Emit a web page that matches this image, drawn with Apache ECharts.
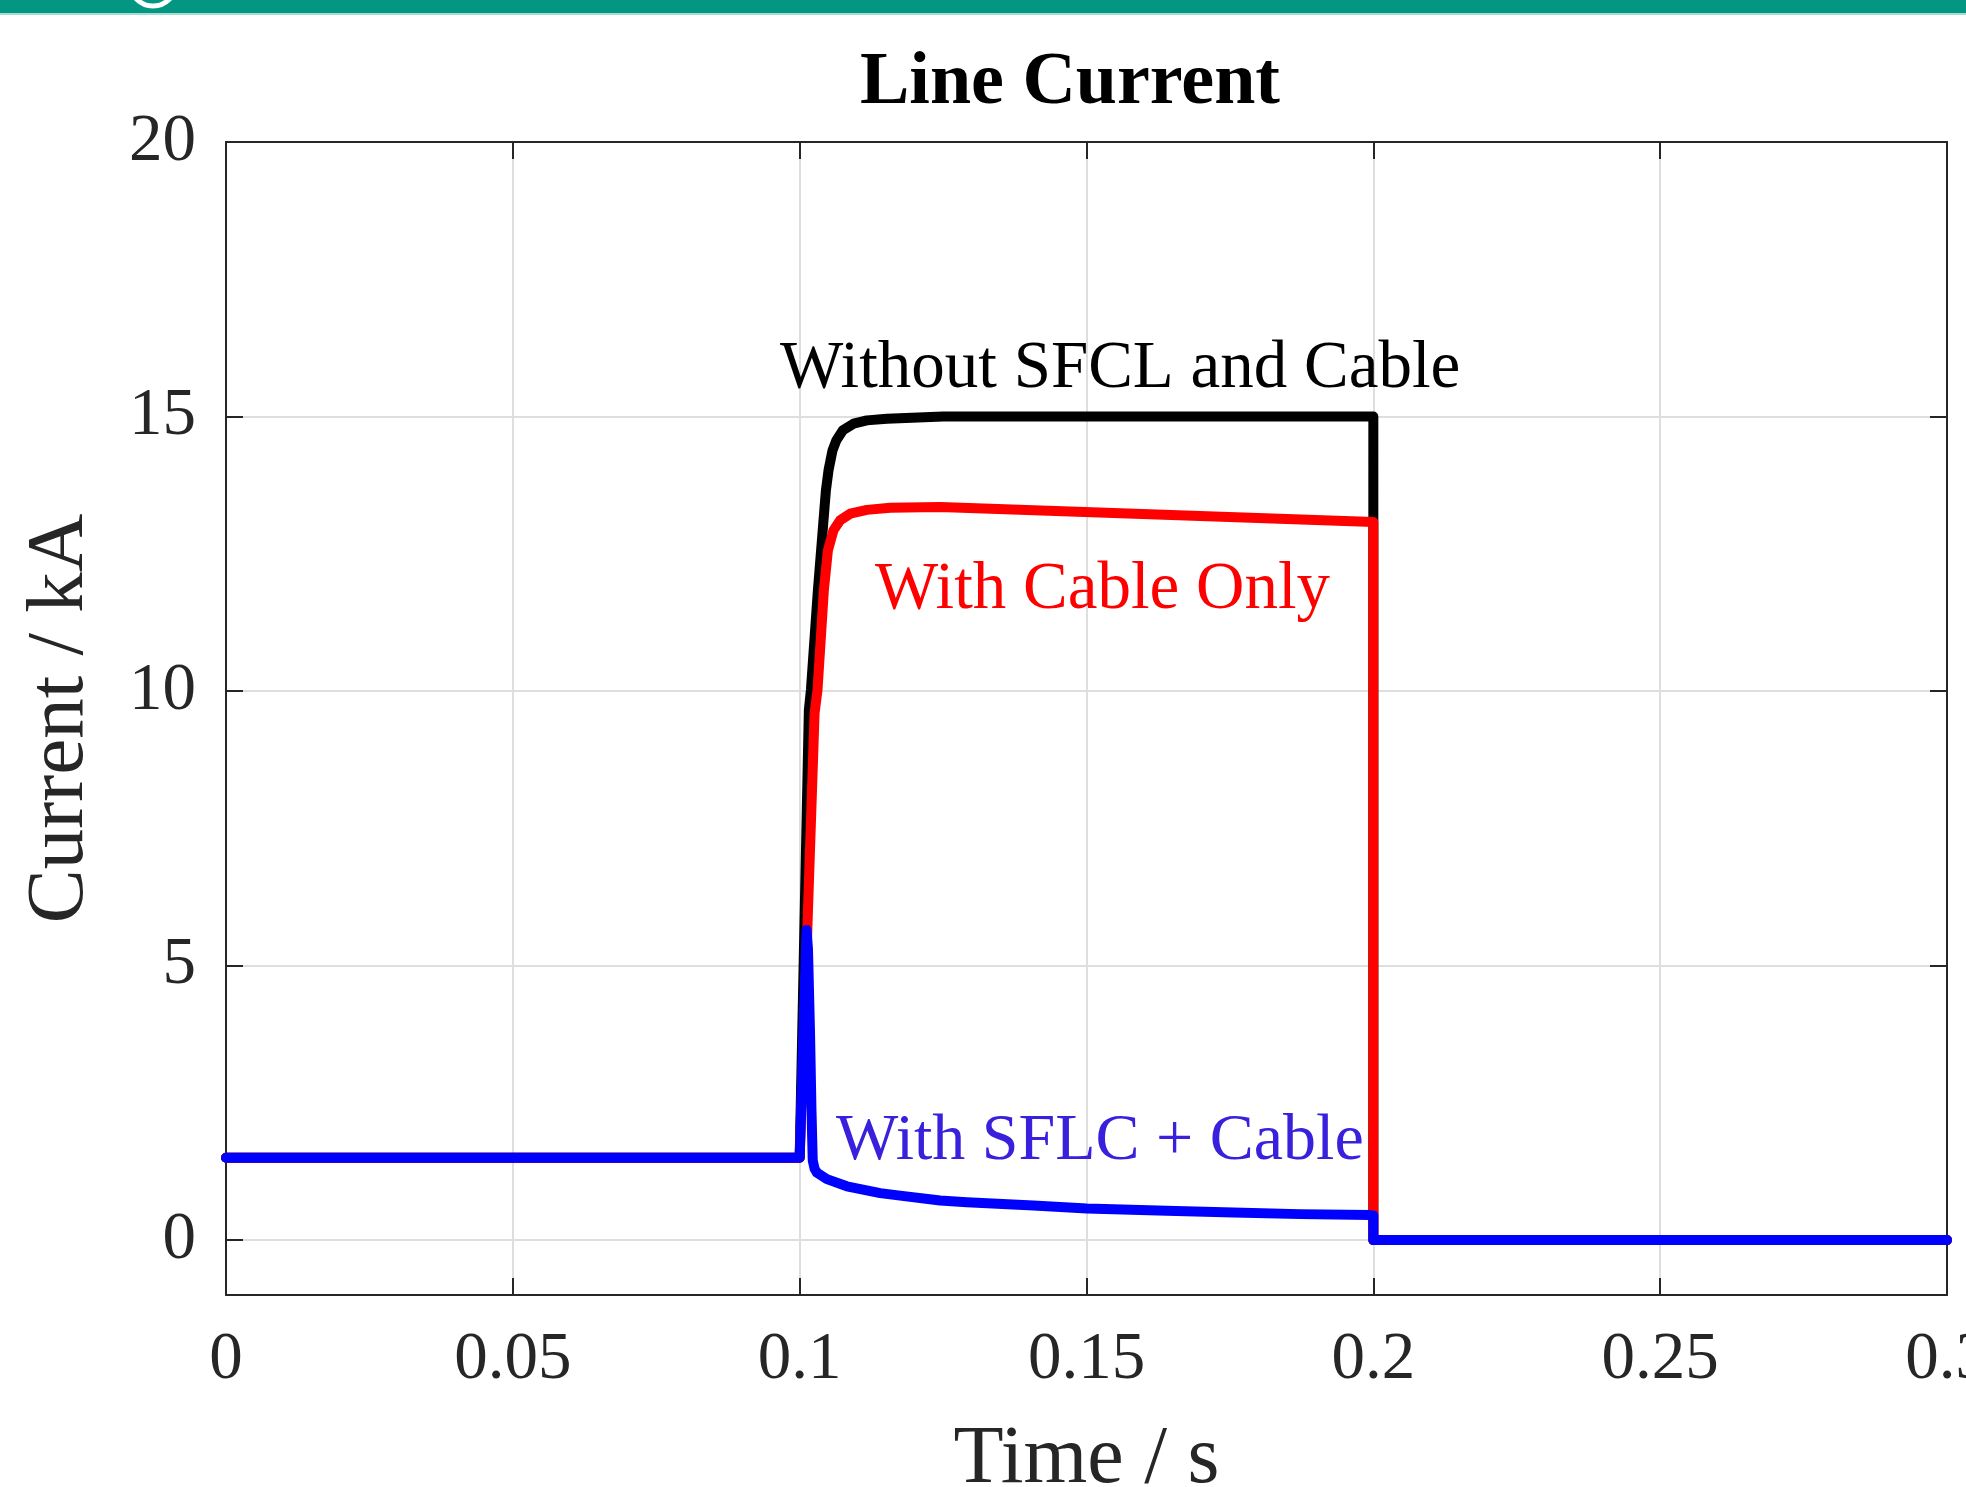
<!DOCTYPE html>
<html>
<head>
<meta charset="utf-8">
<script src="https://cdn.jsdelivr.net/npm/echarts@6/dist/echarts.min.js"></script>
<style>html,body{margin:0;padding:0;background:#fff;}#c{width:1966px;height:1487px;}</style>
</head>
<body>
<div id="c"></div>
<script>
// ---- data ----
const xTicks = [0, 0.05, 0.1, 0.15, 0.2, 0.25, 0.3];
const yTicks = [0, 5, 10, 15, 20];

const blackTime = [0, 0.1, 0.1016, 0.10196, 0.10318, 0.10457, 0.10503, 0.10572, 0.10637, 0.10753, 0.10938, 0.11172, 0.1152, 0.125, 0.2, 0.2, 0.3];
const blackCurrent = [1.5, 1.5, 9.65, 10.02, 11.84, 13.65, 14.02, 14.38, 14.56, 14.75, 14.87, 14.93, 14.96, 15.0, 15.0, 0, 0];

const redTime = [0, 0.1, 0.1026, 0.10311, 0.10422, 0.10492, 0.1059, 0.10706, 0.10881, 0.11172, 0.11578, 0.12449, 0.2, 0.2, 0.3];
const redCurrent = [1.5, 1.5, 9.6, 10.02, 11.84, 12.56, 12.93, 13.11, 13.23, 13.3, 13.34, 13.35, 13.08, 0, 0];

const blueTime = [0, 0.1, 0.1012, 0.10145, 0.1018, 0.10205, 0.10228, 0.1026, 0.103, 0.10475, 0.10823, 0.11404, 0.1175, 0.12449, 0.12914, 0.14076, 0.15006, 0.164, 0.1756, 0.1872, 0.1995, 0.2, 0.2, 0.3];
const blueCurrent = [1.5, 1.5, 5.65, 5.3, 3.8, 2.4, 1.45, 1.3, 1.23, 1.11, 0.98, 0.855, 0.81, 0.72, 0.69, 0.63, 0.575, 0.533, 0.503, 0.473, 0.455, 0.45, 0, 0];

const seriesNames = ['Without SFCL and Cable', 'With Cable Only', 'With SFLC + Cable'];
const titleText = 'Line Current';
const xName = 'Time / s';
const yName = 'Current / kA';

// ---- chart ----
const FONT = "'Liberation Serif', 'Times New Roman', serif";
const pair = (t, v) => t.map((x, i) => [x, v[i]]);
const AX = '#262626';

const chart = echarts.init(document.getElementById('c'), null, {renderer: 'canvas'});

const lineSeries = (name, data, color) => ({
  name, type: 'line', data, showSymbol: false, symbol: 'none', smooth: false,
  xAxisIndex: 0, yAxisIndex: 0, animation: false,
  lineStyle: {color, width: 10, join: 'round', cap: 'round'}
});

chart.setOption({
  animation: false,
  backgroundColor: '#ffffff',
  grid: {left: 226, right: 19, top: 142, bottom: 192, containLabel: false, outerBoundsMode: 'none'},
  xAxis: [{
    type: 'value', min: 0, max: 0.3, interval: 0.05, position: 'bottom',
    name: xName, nameLocation: 'middle', nameGap: 124,
    nameTextStyle: {fontFamily: FONT, fontSize: 82, color: AX},
    axisLine: {show: true, onZero: false, lineStyle: {color: AX, width: 2}},
    axisTick: {show: true, inside: true, length: 17, lineStyle: {color: AX, width: 2}},
    axisLabel: {show: true, margin: 32, fontFamily: FONT, fontSize: 67, color: AX, hideOverlap: false,
      formatter: v => String(+v.toFixed(3))},
    splitLine: {show: true, lineStyle: {color: '#dedede', width: 2}}
  }, {
    type: 'value', min: 0, max: 0.3, interval: 0.05, position: 'top',
    axisLine: {show: true, onZero: false, lineStyle: {color: AX, width: 2}},
    axisTick: {show: true, inside: true, length: 17, lineStyle: {color: AX, width: 2}},
    axisLabel: {show: false}, splitLine: {show: false}
  }],
  yAxis: [{
    type: 'value', min: -1, max: 20, position: 'left',
    name: yName, nameLocation: 'middle', nameGap: 125, nameRotate: 90,
    nameTextStyle: {fontFamily: FONT, fontSize: 81, color: AX},
    axisLine: {show: true, onZero: false, lineStyle: {color: AX, width: 2}},
    axisTick: {show: true, inside: true, length: 17, customValues: yTicks, lineStyle: {color: AX, width: 2}},
    axisLabel: {show: true, margin: 30, customValues: yTicks, fontFamily: FONT, fontSize: 67, color: AX,
      padding: [0, 0, 12, 0]},
    splitLine: {show: true, lineStyle: {color: '#dedede', width: 2}}
  }, {
    type: 'value', min: -1, max: 20, position: 'right',
    axisLine: {show: true, onZero: false, lineStyle: {color: AX, width: 2}},
    axisTick: {show: true, inside: true, length: 17, customValues: yTicks, lineStyle: {color: AX, width: 2}},
    axisLabel: {show: false, customValues: yTicks}, splitLine: {show: false}
  }],
  series: [
    lineSeries(seriesNames[0], pair(blackTime, blackCurrent), '#000000'),
    lineSeries(seriesNames[1], pair(redTime, redCurrent), '#ff0000'),
    lineSeries(seriesNames[2], pair(blueTime, blueCurrent), '#0000ff')
  ],
  graphic: [
    {type: 'rect', shape: {x: 0, y: 0, width: 1966, height: 13}, style: {fill: '#039681'}, z: 100},
    {type: 'rect', shape: {x: 0, y: 13, width: 1966, height: 2}, style: {fill: '#a6dcd6'}, z: 100},
    {type: 'arc', shape: {cx: 153, cy: -17, r: 23, startAngle: 0, endAngle: Math.PI}, style: {stroke: '#ffffff', lineWidth: 5, fill: null}, z: 101},
    {type: 'text', x: 1070, y: 84, z: 100,
      style: {text: titleText, font: 'bold 74px ' + FONT, fill: '#000', textAlign: 'center', verticalAlign: 'middle', textVerticalAlign: 'middle'}},
    {type: 'text', x: 780, y: 369, z: 100,
      style: {text: seriesNames[0], font: '67px ' + FONT, fill: '#000000', textAlign: 'left', verticalAlign: 'middle', textVerticalAlign: 'middle'}},
    {type: 'text', x: 875, y: 590, z: 100,
      style: {text: seriesNames[1], font: '67px ' + FONT, fill: '#ff0000', textAlign: 'left', verticalAlign: 'middle', textVerticalAlign: 'middle'}},
    {type: 'text', x: 836, y: 1142, z: 100,
      style: {text: seriesNames[2], font: '66px ' + FONT, fill: '#3820dc', textAlign: 'left', verticalAlign: 'middle', textVerticalAlign: 'middle'}}
  ]
});
</script>
</body>
</html>
